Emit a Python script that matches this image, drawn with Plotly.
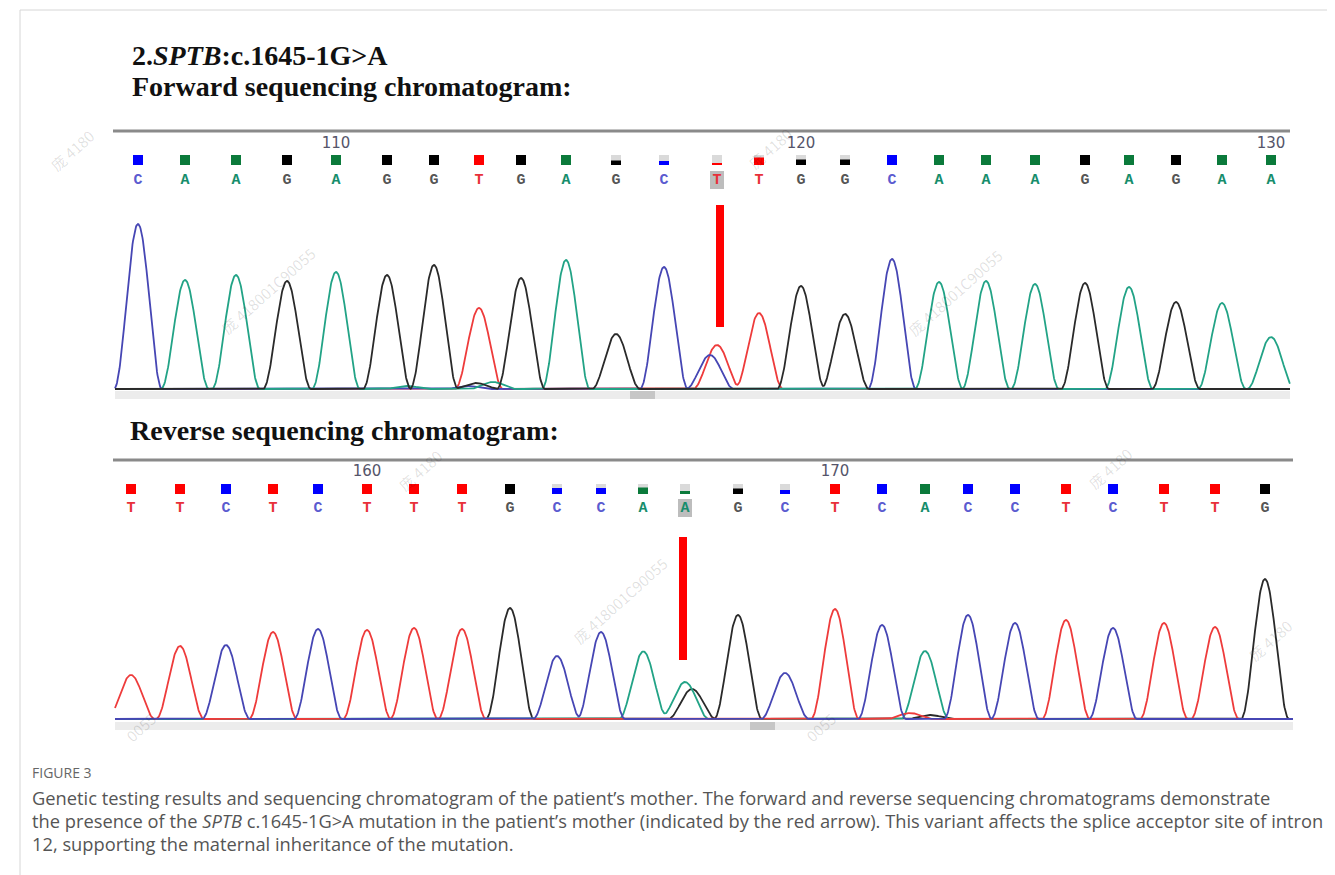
import numpy as np
import plotly.graph_objects as go

# ---------------- data ----------------
# Forward read (positions 106..130)
fwd_bases = list("CAAGAGGTGAGCTTGGCAAAGAGAA")
fwd_pos = [138, 185, 236, 287, 336, 387, 434, 479, 521, 566, 616, 664, 717, 759, 801, 845,
           892, 939, 986, 1035, 1085, 1129, 1176, 1222, 1271]
fwd_height = [165, 109, 114, 108, 117, 114, 124, 81, 111, 129, 55, 122, 44, 76, 103, 75,
              130, 107, 108, 105, 106, 102, 87, 86, 52]
fwd_quality = [1, 1, 1, 1, 1, 1, 1, 1, 1, 1, 0.45, 0.4, 0.2, 0.75, 0.55, 0.55,
               1, 1, 1, 1, 1, 1, 1, 1, 1]
fwd_start = 106
fwd_ticks = [110, 120, 130]
fwd_extra = [("C", 710, 34), ("G", 476, 6), ("A", 493, 7), ("C", 468, 3), ("A", 407, 3)]
fwd_mut = 12

# Reverse read (positions 155..179)
rev_bases = list("TTCTCTTTGCCAAGCTCACCTCTTG")
rev_pos = [131, 180, 226, 273, 318, 367, 414, 462, 510, 557, 601, 643, 685, 738, 785, 835,
           882, 925, 968, 1015, 1066, 1113, 1164, 1215, 1265]
rev_height = [44, 73, 74, 87, 90, 89, 91, 90, 111, 63, 87, 66, 37, 104, 46, 110,
              94, 68, 104, 96, 99, 91, 96, 92, 140]
rev_quality = [1, 1, 1, 1, 1, 1, 1, 1, 1, 0.6, 0.6, 0.65, 0.3, 0.55, 0.4, 1,
               1, 1, 1, 1, 1, 1, 1, 1, 1]
rev_start = 155
rev_ticks = [160, 170]
rev_extra = [("G", 692, 30), ("T", 910, 6), ("G", 930, 4), ("A", 655, 3)]
rev_mut = 12

# ---------------- styles ----------------
OFF = 8                      # page body margin
W, H = 1335 - OFF, 875 - OFF
trace_col = {"A": "#22a386", "C": "#4646b4", "G": "#2a2a2a", "T": "#ee3b3b"}
letter_col = {"A": "#178d6c", "C": "#5b5bd0", "G": "#555555", "T": "#e8303a"}
square_col = {"A": "#0b7a3b", "C": "#0000ff", "G": "#000000", "T": "#ff0000"}
HALF_W = 24


def frac(py):
    return 1 - (py - OFF) / H


def peak(x, p, h):
    d = np.abs(x - p)
    return np.where(d < HALF_W, h * np.cos(np.pi * d / (2 * HALF_W)) ** 2, 0.0)


def channel(x, pos, bases, heights, extra, base):
    y = np.zeros_like(x)
    for p, b, h in zip(pos, bases, heights):
        if b == base:
            y = y + peak(x, p, h)
    for b, p, h in extra:
        if b == base:
            y = y + peak(x, p, h)
    return y


fig = go.Figure()
shapes = []
annotations = []


def panel(pos, bases, heights, quality, extra, start, ticks, mut, yaxis, x_end, order,
          line_y, tick_y, sq_y, let_y, bar_y, dark_x, red_x, red_y):
    x = np.arange(115, x_end + 0.5, 0.5)
    for b in order:
        fig.add_trace(go.Scatter(x=x, y=channel(x, pos, bases, heights, extra, b), mode="lines",
                                 line=dict(color=trace_col[b], width=1.8), yaxis=yaxis,
                                 hoverinfo="skip"))
    shapes.append(dict(type="line", xref="x", yref="y3", x0=113, x1=x_end, y0=line_y, y1=line_y,
                       line=dict(color="#8a8a8a", width=3)))
    shapes.append(dict(type="rect", xref="x", yref="y3", x0=115, x1=x_end, y0=bar_y, y1=bar_y + 8,
                       fillcolor="#ececec", line=dict(width=0), layer="below"))
    shapes.append(dict(type="rect", xref="x", yref="y3", x0=dark_x, x1=dark_x + 25, y0=bar_y,
                       y1=bar_y + 8, fillcolor="#c6c6c6", line=dict(width=0), layer="below"))
    shapes.append(dict(type="rect", xref="x", yref="y3", x0=pos[mut] - 7, x1=pos[mut] + 7,
                       y0=let_y - 9, y1=let_y + 9, fillcolor="#bdbdbd", line=dict(width=0),
                       layer="below"))
    for p, b, q in zip(pos, bases, quality):
        if q < 1:
            shapes.append(dict(type="rect", xref="x", yref="y3", x0=p - 5, x1=p + 5,
                               y0=sq_y - 5, y1=sq_y + 5, fillcolor="#dadada", line=dict(width=0)))
        top = sq_y + 5 - 10 * q
        shapes.append(dict(type="rect", xref="x", yref="y3", x0=p - 5, x1=p + 5,
                           y0=top, y1=sq_y + 5, fillcolor=square_col[b], line=dict(width=0)))
    fig.add_trace(go.Scatter(x=pos, y=[let_y] * len(pos), mode="text", text=bases,
                             textfont=dict(family="Liberation Mono", size=15, weight="bold",
                                           color=[letter_col[b] for b in bases]),
                             yaxis="y3", hoverinfo="skip"))
    tx = [pos[t - start] for t in ticks]
    fig.add_trace(go.Scatter(x=tx, y=[tick_y] * len(tx), mode="text", text=[str(t) for t in ticks],
                             textfont=dict(family="DejaVu Sans", size=15, color="#55556a"),
                             yaxis="y3", hoverinfo="skip"))
    shapes.append(dict(type="line", xref="x", yref="y3", x0=red_x, x1=red_x, y0=red_y[0],
                       y1=red_y[1], line=dict(color="#ff0000", width=8)))


panel(fwd_pos, fwd_bases, fwd_height, fwd_quality, fwd_extra, fwd_start, fwd_ticks, fwd_mut,
      "y", 1290, ["T", "C", "A", "G"], 131, 144, 160, 180, 391, 630, 720, (205, 327))
panel(rev_pos, rev_bases, rev_height, rev_quality, rev_extra, rev_start, rev_ticks, rev_mut,
      "y2", 1293, ["G", "A", "T", "C"], 460, 472, 489, 508, 722, 750, 683, (537, 660))

wm = "庞 418001C90055"
for (wx, wy, txt) in [(72, 150, "庞 4180"), (268, 290, wm), (770, 148, "庞 4180"), (955, 292, wm),
                      (420, 470, "庞 4180"), (620, 600, wm), (1110, 468, "庞 4180"),
                      (1270, 640, "庞 4180"), (140, 727, "0055"), (820, 727, "0055")]:
    annotations.append(dict(x=wx, y=wy, xref="x", yref="y3", text=txt, showarrow=False,
                            textangle=-42, font=dict(family="Noto Sans CJK SC", size=15,
                                                     color="rgba(0,0,0,0.13)")))

serif = "Liberation Serif"
annotations += [
    dict(x=130, y=55, xref="x", yref="y3", xanchor="left", yanchor="middle", showarrow=False,
         text="<b>2.<i>SPTB</i>:c.1645-1G&gt;A</b>", font=dict(family=serif, size=28, color="#111")),
    dict(x=130, y=86, xref="x", yref="y3", xanchor="left", yanchor="middle", showarrow=False,
         text="<b>Forward sequencing chromatogram:</b>", font=dict(family=serif, size=28, color="#111")),
    dict(x=128, y=430, xref="x", yref="y3", xanchor="left", yanchor="middle", showarrow=False,
         text="<b>Reverse sequencing chromatogram:</b>", font=dict(family=serif, size=28, color="#111")),
]

cap_font = dict(family="Open Sans", size=18.3, color="#555555")
annotations += [
    dict(x=30, y=772, xref="x", yref="y3", xanchor="left", yanchor="middle", showarrow=False,
         text="FIGURE 3", font=dict(family="Open Sans", size=14, color="#666666")),
    dict(x=30, y=797, xref="x", yref="y3", xanchor="left", yanchor="middle", showarrow=False,
         text="Genetic testing results and sequencing chromatogram of the patient’s mother. "
              "The forward and reverse sequencing chromatograms demonstrate", font=cap_font),
    dict(x=30, y=820, xref="x", yref="y3", xanchor="left", yanchor="middle", showarrow=False,
         text="the presence of the <i>SPTB</i> c.1645-1G&gt;A mutation in the patient’s mother "
              "(indicated by the red arrow). This variant affects the splice acceptor site of intron",
         font=cap_font),
    dict(x=30, y=843, xref="x", yref="y3", xanchor="left", yanchor="middle", showarrow=False,
         text="12, supporting the maternal inheritance of the mutation.", font=cap_font),
]

shapes += [
    dict(type="line", xref="x", yref="y3", x0=20, x1=20, y0=10, y1=875, line=dict(color="#d6d6d6", width=1)),
    dict(type="line", xref="x", yref="y3", x0=20, x1=1328, y0=10, y1=10, line=dict(color="#d6d6d6", width=1)),
    dict(type="line", xref="x", yref="y3", x0=1328, x1=1328, y0=10, y1=875, line=dict(color="#d6d6d6", width=1)),
]

fig.update_layout(
    width=W, height=H, margin=dict(l=0, r=0, t=0, b=0),
    paper_bgcolor="white", plot_bgcolor="rgba(0,0,0,0)", showlegend=False,
    xaxis=dict(range=[OFF, OFF + W], domain=[0, 1], visible=False, fixedrange=True),
    yaxis=dict(domain=[frac(392), frac(212)], range=[-3, 177], visible=False, fixedrange=True),
    yaxis2=dict(domain=[frac(722), frac(542)], range=[-3, 177], visible=False, anchor="x",
                fixedrange=True),
    yaxis3=dict(domain=[0, 1], range=[OFF + H, OFF], visible=False, anchor="x", fixedrange=True),
    shapes=shapes, annotations=annotations,
)

fig.write_html("out.html")
